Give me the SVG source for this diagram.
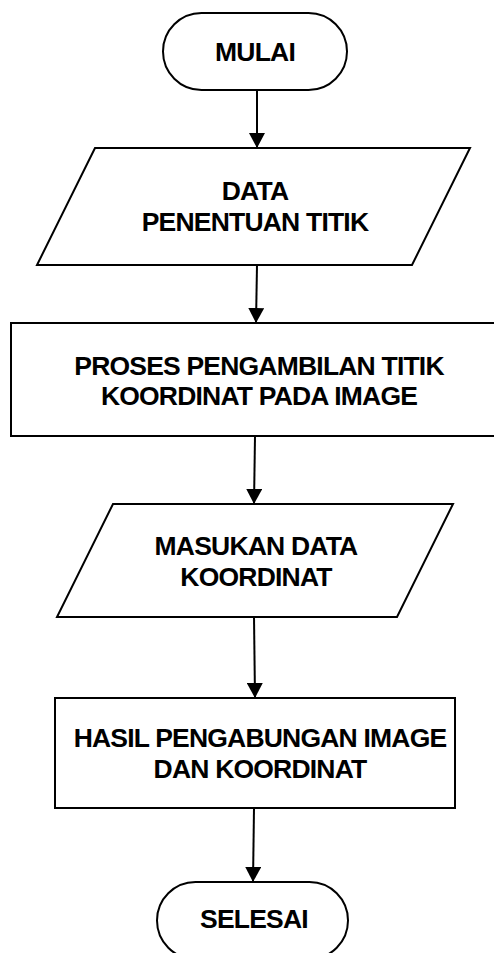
<svg xmlns="http://www.w3.org/2000/svg" width="494" height="953" viewBox="0 0 494 953">
  <defs>
    <marker id="arrow" viewBox="0 0 15 16" refX="15" refY="8" markerWidth="15" markerHeight="16" markerUnits="userSpaceOnUse" orient="auto">
      <path d="M0,0 L15,8 L0,16 Z" fill="#000"/>
    </marker>
  </defs>
  <style>
    .shape { fill: #fff; stroke: #000; stroke-width: 2; }
    .label { font-family: "Liberation Sans", Arial, sans-serif; font-weight: bold; font-size: 26.5px; letter-spacing: -0.8px; fill: #000; text-anchor: middle; }
    .link { fill: none; stroke: #000; stroke-width: 2; marker-end: url(#arrow); }
  </style>
  <rect width="494" height="953" fill="#fff"/>

  <!-- connectors -->
  <g id="connectors">
    <line class="link" x1="257" y1="90" x2="257" y2="148"/>
    <line class="link" x1="257" y1="265" x2="256" y2="323"/>
    <line class="link" x1="255" y1="436" x2="254" y2="504"/>
    <line class="link" x1="254" y1="617" x2="255" y2="698"/>
    <line class="link" x1="254" y1="808" x2="253" y2="882"/>
  </g>

  <!-- start terminal -->
  <g id="mulai">
    <rect class="shape" x="163" y="13" width="184" height="77" rx="38.5" ry="38.5"/>
    <text class="label" x="255" y="61">MULAI</text>
  </g>

  <!-- input: point data -->
  <g id="data-penentuan-titik">
    <polygon class="shape" points="95,148 470,148 412,265 37,265"/>
    <text class="label" x="255" y="200">DATA</text>
    <text class="label" x="255" y="231">PENENTUAN TITIK</text>
  </g>

  <!-- process: coordinate picking -->
  <g id="proses-pengambilan">
    <rect class="shape" x="11" y="323" width="500" height="113"/>
    <text class="label" x="259" y="375">PROSES PENGAMBILAN TITIK</text>
    <text class="label" x="259" y="405">KOORDINAT PADA IMAGE</text>
  </g>

  <!-- input: coordinate data -->
  <g id="masukan-data">
    <polygon class="shape" points="113,504 453,504 397,617 57,617"/>
    <text class="label" x="256" y="555">MASUKAN DATA</text>
    <text class="label" x="256" y="586">KOORDINAT</text>
  </g>

  <!-- process: merge result -->
  <g id="hasil-pengabungan">
    <rect class="shape" x="55" y="698" width="400" height="110"/>
    <text class="label" x="260" y="747">HASIL PENGABUNGAN IMAGE</text>
    <text class="label" x="260" y="778">DAN KOORDINAT</text>
  </g>

  <!-- end terminal -->
  <g id="selesai">
    <rect class="shape" x="157" y="882" width="191" height="77" rx="38.5" ry="38.5"/>
    <text class="label" x="254" y="928">SELESAI</text>
  </g>
</svg>
